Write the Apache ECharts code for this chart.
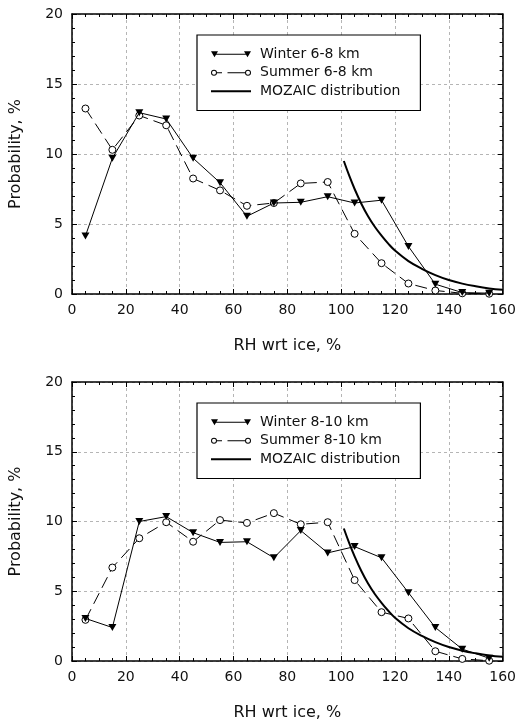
<!DOCTYPE html>
<html><head><meta charset="utf-8">
<script src="https://cdn.jsdelivr.net/npm/echarts@6/dist/echarts.min.js"></script>
<style>html,body{margin:0;padding:0;background:#fff}#c{width:519px;height:722px}</style>
</head><body><div id="c"></div>
<script>
// ---- data ----
const rhBins = [5, 15, 25, 35, 45, 55, 65, 75, 85, 95, 105, 115, 125, 135, 145, 155];
const winter68 = [4.15, 9.7, 12.95, 12.5, 9.7, 7.95, 5.55, 6.5, 6.55, 6.95, 6.5, 6.7, 3.4, 0.7, 0.1, 0.06];
const summer68 = [13.25, 10.3, 12.75, 12.05, 8.25, 7.4, 6.3, 6.5, 7.9, 8.0, 4.3, 2.2, 0.75, 0.25, 0.05, 0.02];
const winter810 = [3.05, 2.4, 10.0, 10.35, 9.2, 8.5, 8.55, 7.4, 9.35, 7.75, 8.2, 7.4, 4.9, 2.4, 0.85, 0.2];
const summer810 = [2.95, 6.7, 8.8, 9.95, 8.55, 10.1, 9.9, 10.6, 9.8, 9.95, 5.8, 3.5, 3.05, 0.7, 0.15, 0.02];
const mozaicRH = [101, 103, 105, 107.5, 110, 112.5, 115, 117.5, 120, 125, 130, 135, 140, 145, 150, 155, 160];
const mozaicProb = [9.5, 8.45, 7.5, 6.45, 5.55, 4.8, 4.17, 3.6, 3.1, 2.35, 1.8, 1.35, 1.0, 0.74, 0.55, 0.4, 0.3];
const panelNames = [
  ['Winter 6-8 km', 'Summer 6-8 km', 'MOZAIC distribution'],
  ['Winter 8-10 km', 'Summer 8-10 km', 'MOZAIC distribution']
];
const xRange = [0, 160, 20];
const yRange = [0, 20, 5];
const xTitle = 'RH wrt ice, %';
const yTitle = 'Probability, %';

// ---- chart ----
const FONT = 'DejaVu Sans';
const pair = (xs, ys) => xs.map((x, i) => [x, ys[i]]);
const panels = [
  { top: 14, winter: winter68, summer: summer68, legendTop: 35 },
  { top: 382, winter: winter810, summer: summer810, legendTop: 403 }
];

const ICON_WINTER = 'path://M0,0L7,0L3.5,6Z M33,0L40,0L36.5,6Z M3.5,2.5L36.5,2.5L36.5,3.5L3.5,3.5Z M44,3L44,3Z';
const ICON_SUMMER = 'path://M0,3A3,3,0,1,1,6,3A3,3,0,1,1,0,3Z M1,3A2,2,0,1,0,5,3A2,2,0,1,0,1,3Z ' +
  'M34,3A3,3,0,1,1,40,3A3,3,0,1,1,34,3Z M35,3A2,2,0,1,0,39,3A2,2,0,1,0,35,3Z ' +
  'M6,2.5L11,2.5L11,3.5L6,3.5Z M16.5,2.5L34,2.5L34,3.5L16.5,3.5Z M44,3L44,3Z';
const ICON_MOZ = 'path://M0,0L0,0Z M0,6L0,6Z M0,2L40,2L40,4L0,4Z M44,3L44,3Z';

const grid = [], xAxis = [], yAxis = [], series = [], legend = [];
const axisLine = { show: true, onZero: false, lineStyle: { color: '#000', width: 1.5 } };
const tick = { show: true, inside: true, length: 5, lineStyle: { color: '#000', width: 1 } };

panels.forEach((p, i) => {
  grid.push({ left: 72, top: p.top, width: 432, height: 280 });
  xAxis.push({
    type: 'value', gridIndex: i, min: xRange[0], max: xRange[1], interval: xRange[2], position: 'bottom',
    name: xTitle, nameLocation: 'middle', nameGap: 44,
    nameTextStyle: { fontSize: 16, color: '#111', fontFamily: FONT },
    axisLine, axisTick: tick,
    minorTick: { show: true, splitNumber: 4, length: 3, lineStyle: { color: '#000' } },
    axisLabel: { fontSize: 14, color: '#111', margin: 9, fontFamily: FONT },
    splitLine: { show: true, lineStyle: { color: '#b5b5b5', width: 1, type: [3, 3] } }
  });
  xAxis.push({
    type: 'value', gridIndex: i, min: xRange[0], max: xRange[1], interval: xRange[2], position: 'top',
    axisLine, axisTick: tick,
    minorTick: { show: true, splitNumber: 4, length: 3, lineStyle: { color: '#000' } },
    axisLabel: { show: false }, splitLine: { show: false }
  });
  yAxis.push({
    type: 'value', gridIndex: i, min: yRange[0], max: yRange[1], interval: yRange[2], position: 'left',
    name: yTitle, nameLocation: 'middle', nameGap: 48,
    nameTextStyle: { fontSize: 16, color: '#111', fontFamily: FONT },
    axisLine, axisTick: tick,
    minorTick: { show: true, splitNumber: 5, length: 3, lineStyle: { color: '#000' } },
    axisLabel: { fontSize: 14, color: '#111', margin: 9, fontFamily: FONT },
    splitLine: { show: true, lineStyle: { color: '#b5b5b5', width: 1, type: [3, 3] } }
  });
  yAxis.push({
    type: 'value', gridIndex: i, min: yRange[0], max: yRange[1], interval: yRange[2], position: 'right',
    axisLine, axisTick: tick,
    minorTick: { show: true, splitNumber: 5, length: 3, lineStyle: { color: '#000' } },
    axisLabel: { show: false }, splitLine: { show: false }
  });
  const xi = 2 * i, yi = 2 * i;
  const names = panelNames[i];
  series.push({
    type: 'line', name: names[2], xAxisIndex: xi, yAxisIndex: yi, data: pair(mozaicRH, mozaicProb),
    smooth: 0.4, showSymbol: false, symbol: 'none',
    lineStyle: { color: '#000', width: 2 }, itemStyle: { color: '#000' }, z: 2
  });
  series.push({
    type: 'line', name: names[1], xAxisIndex: xi, yAxisIndex: yi, data: pair(rhBins, p.summer),
    symbol: 'circle', symbolSize: 7,
    itemStyle: { color: '#fff', borderColor: '#000', borderWidth: 1 },
    lineStyle: { color: '#000', width: 1, type: [12, 6] }, z: 3
  });
  series.push({
    type: 'line', name: names[0], xAxisIndex: xi, yAxisIndex: yi, data: pair(rhBins, p.winter),
    symbol: 'triangle', symbolRotate: 180, symbolSize: [8, 7],
    itemStyle: { color: '#000' },
    lineStyle: { color: '#000', width: 1 }, z: 4
  });
  legend.push({
    left: 197, top: p.legendTop, orient: 'vertical',
    padding: [10, 20, 10, 14], itemGap: 0, itemWidth: 44, itemHeight: 6,
    symbolKeepAspect: false,
    backgroundColor: '#fff', borderColor: '#000', borderWidth: 1.2, borderRadius: 0,
    selectedMode: false,
    textStyle: { fontSize: 14, color: '#111', fontFamily: FONT, lineHeight: 18.5 },
    data: [
      { name: names[0], icon: ICON_WINTER, itemStyle: { color: '#000', borderWidth: 0 } },
      { name: names[1], icon: ICON_SUMMER, itemStyle: { color: '#000', borderWidth: 0 } },
      { name: names[2], icon: ICON_MOZ, itemStyle: { color: '#000', borderWidth: 0 } }
    ],
    z: 10
  });
});

const chart = echarts.init(document.getElementById('c'), null, { renderer: 'canvas' });
chart.setOption({ animation: false, backgroundColor: '#fff', grid, xAxis, yAxis, series, legend });
</script></body></html>
